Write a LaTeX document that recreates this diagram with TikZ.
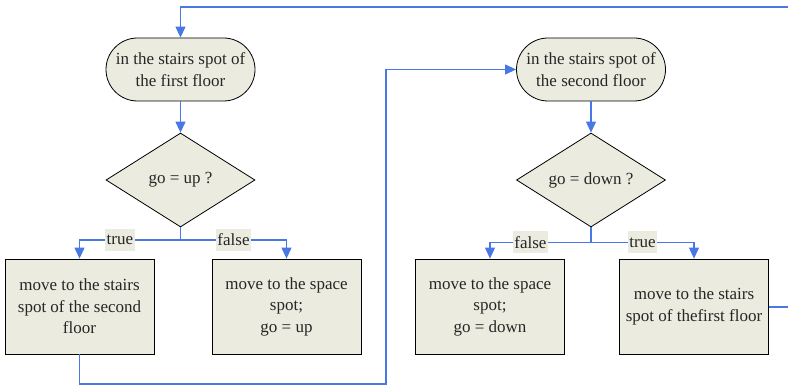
\documentclass[tikz,border=0pt]{standalone}
\usepackage{fontspec}
\setmainfont{Liberation Serif}
\usetikzlibrary{shapes.geometric,arrows.meta}
\definecolor{boxfill}{RGB}{235,235,223}
\definecolor{flowblue}{RGB}{72,120,228}
\begin{document}
\begin{tikzpicture}[x=1pt,y=-1pt,
  every node/.style={font=\fontsize{17}{21.5}\selectfont, text=black!85},
  terminal/.style={draw=black, line width=0.8pt, fill=boxfill, rectangle,
    rounded corners=31.5pt, minimum width=149pt, minimum height=63pt,
    inner sep=0pt, align=center},
  decision/.style={draw=black, line width=0.8pt, fill=boxfill, diamond,
    minimum width=149pt, minimum height=94pt, inner sep=0pt, aspect=1.585},
  process/.style={draw=black, line width=0.8pt, fill=boxfill, rectangle,
    minimum width=149pt, minimum height=95pt, inner sep=0pt, align=center},
  branchlabel/.style={fill=boxfill, inner xsep=1.5pt, inner ysep=0pt,
    minimum height=22pt},
  flow/.style={draw=flowblue, line width=1.1pt},
  arrowflow/.style={flow, -{Triangle[width=10pt,length=11pt]}}]

\useasboundingbox (0,0) rectangle (788,387);

% first floor
\node[terminal] (s1) at (180.5,69.5) {in the stairs spot of\\the first floor};
\node[decision] (d1) at (180.5,180) {go = up ?};
\node[process] (b1) at (79.5,306.5) {move to the stairs\\spot of the second\\floor};
\node[process] (b2) at (286.5,306.5) {move to the space\\spot;\\go = up};

% second floor
\node[terminal] (s2) at (591,69.5) {in the stairs spot of\\the second floor};
\node[decision] (d2) at (591,180) {go = down ?};
\node[process] (b3) at (490,306.5) {move to the space\\spot;\\go = down};
\node[process] (b4) at (694,306.5) {move to the stairs\\spot of thefirst floor};

% helper points of the routed connectors
\coordinate (j1) at (180.5,240);
\coordinate (j2) at (591,242.5);
\coordinate (topR) at (788,7);
\coordinate (outR) at (788,307);

% loop back into the first floor
\draw[arrowflow] (topR) -| (s1.north);
\draw[arrowflow] (s1) -- (d1);

% first decision
\draw[flow] (d1.south) -- (j1);
\draw[arrowflow] (j1) -| node[branchlabel, pos=0.3] {true} (b1.north);
\draw[arrowflow] (j1) -| node[branchlabel, pos=0.25] {false} (b2.north);

% from the first floor to the second
\draw[arrowflow] (b1.south) -- (79.5,384) -- (386,384) |- (s2.west);
\draw[arrowflow] (s2) -- (d2);

% second decision
\draw[flow] (d2.south) -- (j2);
\draw[arrowflow] (j2) -| node[branchlabel, pos=0.3] {false} (b3.north);
\draw[arrowflow] (j2) -| node[branchlabel, pos=0.25] {true} (b4.north);

% exit to the right
\draw[flow] (b4.east |- outR) -- (outR);
\end{tikzpicture}
\end{document}
